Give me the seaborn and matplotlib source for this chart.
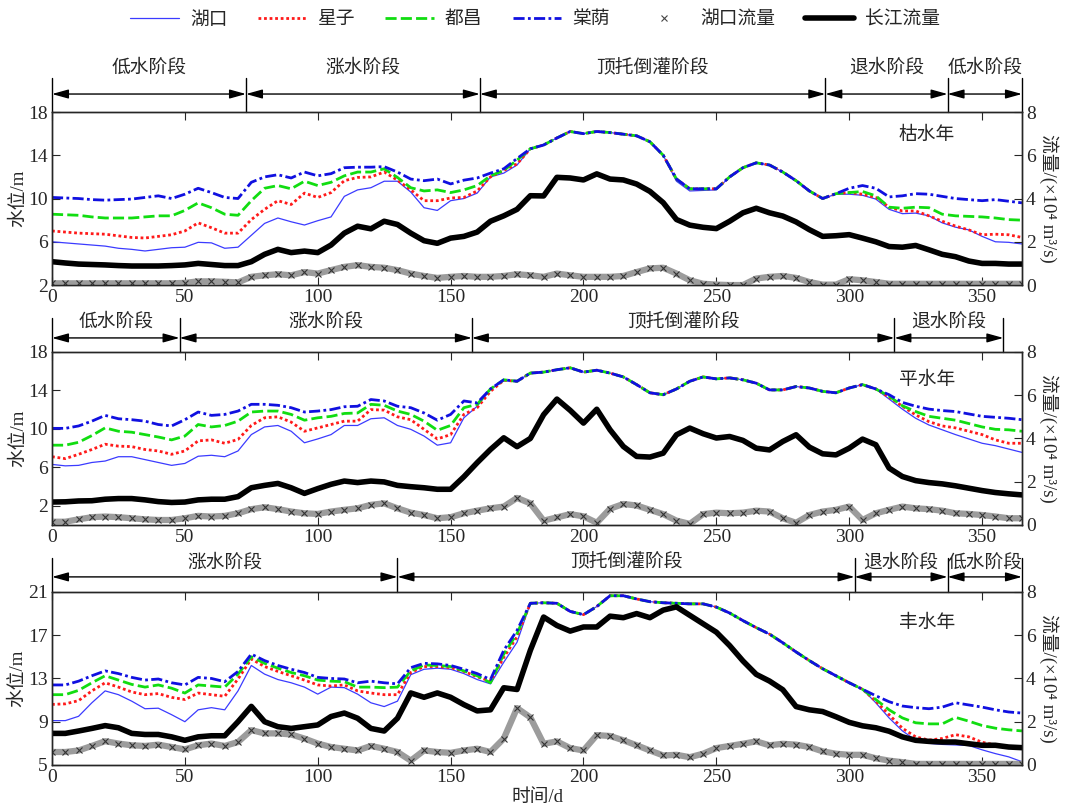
import numpy as np
import matplotlib
matplotlib.use("Agg")
import matplotlib.pyplot as plt
from matplotlib.lines import Line2D
import matplotlib.transforms as mtransforms
import seaborn as sns

# Days sampled every 5 days
days = np.arange(0, 366, 5)

# ---------------- Dry year (枯水年) ----------------
dry_common = [14.6, 14.95, 15.6, 16.2, 16.0, 16.2, 16.1, 15.95, 15.8, 15.25, 14.0, 11.8,
              10.9, 10.9, 10.9, 12.0, 12.85, 13.3, 13.1, 12.45, 11.65, 10.7, 10.0, 10.45]
dry_hukou = [6.0, 5.9, 5.8, 5.7, 5.6, 5.4, 5.3, 5.15, 5.3, 5.45, 5.5, 5.95, 5.9, 5.4, 5.5, 6.6,
             7.7, 8.2, 7.85, 7.55, 7.95, 8.3, 10.2, 10.8, 11.0, 11.6, 11.6, 10.6, 9.15, 8.9, 9.8,
             10.0, 10.5, 12.0, 12.35, 13.1] + \
            [14.6, 14.95, 15.6, 16.2, 16.0, 16.2, 16.1, 15.95, 15.8, 15.25, 14.0, 11.6,
             10.7, 10.75, 10.8, 12.0, 12.85, 13.3, 13.1, 12.45, 11.65, 10.7, 10.0, 10.4] + \
            [10.4, 10.3, 9.95, 9.0, 8.6, 8.65, 8.4, 7.75, 7.35, 7.1, 6.5, 6.0, 5.95, 5.8]
dry_xingzi = [7.0, 6.9, 6.8, 6.75, 6.7, 6.55, 6.4, 6.35, 6.5, 6.65, 7.0, 7.75, 7.3, 6.8, 6.8,
              8.05, 9.0, 9.8, 9.45, 10.5, 10.1, 10.55, 11.65, 11.95, 12.0, 12.45, 11.7, 10.8,
              9.8, 9.8, 10.05, 10.1, 10.7, 12.0, 12.6, 13.2] + dry_common + \
             [10.55, 10.4, 10.1, 9.2, 8.85, 8.85, 8.4, 7.9, 7.45, 7.1, 6.65, 6.7, 6.65, 6.4]
dry_duchang = [8.55, 8.5, 8.45, 8.3, 8.2, 8.2, 8.2, 8.3, 8.4, 8.4, 8.9, 9.6, 9.15, 8.55, 8.45,
               9.8, 10.95, 11.2, 10.9, 11.6, 11.2, 11.5, 12.1, 12.45, 12.45, 12.75, 11.95, 11.0,
               10.7, 10.8, 10.55, 10.8, 11.2, 12.1, 12.6, 13.55] + dry_common + \
              [10.55, 10.65, 10.25, 9.2, 9.1, 9.2, 9.15, 8.55, 8.4, 8.35, 8.3, 8.2, 8.05, 8.0]
dry_tangyin = [10.1, 10.05, 10.0, 9.9, 9.85, 9.9, 9.95, 10.1, 10.25, 10.0, 10.4, 10.95, 10.55,
               10.1, 10.0, 11.5, 12.0, 12.2, 11.9, 12.45, 12.1, 12.3, 12.85, 12.9, 12.9, 12.95,
               12.45, 11.8, 11.65, 11.8, 11.35, 11.7, 11.9, 12.35, 12.75, 13.7] + dry_common + \
              [10.95, 11.2, 10.95, 10.15, 10.25, 10.45, 10.4, 10.2, 10.0, 9.9, 9.8, 9.9, 9.75, 9.6]
dry_cj_flow = [1.08, 1.02, 0.97, 0.95, 0.93, 0.9, 0.88, 0.88, 0.88, 0.9, 0.93, 1.0, 0.95, 0.9,
               0.9, 1.08, 1.42, 1.65, 1.5, 1.57, 1.5, 1.85, 2.4, 2.72, 2.6, 2.95, 2.8, 2.4, 2.05,
               1.93, 2.17, 2.25, 2.45, 2.95, 3.2, 3.5, 4.13, 4.12, 4.98, 4.95, 4.86, 5.14, 4.9,
               4.86, 4.67, 4.33, 3.81, 3.03, 2.77, 2.67, 2.61, 2.95, 3.34, 3.55, 3.34, 3.19, 2.92,
               2.56, 2.25, 2.28, 2.33, 2.17, 2.0, 1.78, 1.75, 1.83, 1.63, 1.42, 1.31, 1.11, 1.0,
               1.0, 0.97, 0.97]
dry_hk_flow = [0.08, 0.08, 0.08, 0.08, 0.08, 0.08, 0.08, 0.08, 0.08, 0.08, 0.1, 0.17, 0.17,
               0.15, 0.12, 0.38, 0.45, 0.5, 0.45, 0.6, 0.53, 0.69, 0.84, 0.92, 0.84, 0.8, 0.69,
               0.53, 0.42, 0.33, 0.38, 0.42, 0.38, 0.38, 0.42, 0.5, 0.45, 0.38, 0.53, 0.45, 0.38,
               0.38, 0.38, 0.42, 0.6, 0.77, 0.8, 0.53, 0.22, 0.06, 0.02, 0.0, 0.0, 0.3, 0.38,
               0.42, 0.33, 0.14, 0.02, 0.02, 0.27, 0.22, 0.14, 0.06, 0.06, 0.06, 0.06, 0.06,
               0.06, 0.06, 0.06, 0.06, 0.06, 0.06]

# ---------------- Normal year (平水年) ----------------
nor_common = [15.8, 15.9, 16.15, 16.35, 15.9, 16.1, 15.8, 15.4, 14.6, 13.75, 13.55, 14.15,
              14.95, 15.4, 15.2, 15.3, 15.1, 14.75, 14.05, 14.05, 14.4, 14.25, 13.9, 13.75,
              14.25, 14.6, 14.15]
nor_hukou = [6.3, 6.15, 6.2, 6.5, 6.65, 7.1, 7.1, 6.8, 6.5, 6.2, 6.4, 7.15, 7.25, 7.1, 7.7,
             9.4, 10.2, 10.35, 9.75, 8.55, 8.95, 9.4, 10.35, 10.35, 11.05, 11.15, 10.35, 9.95,
             9.25, 8.3, 8.55, 11.15, 12.35, 14.1, 15.05, 14.95] + nor_common + \
            [13.1, 12.05, 11.1, 10.4, 9.9, 9.4, 8.95, 8.5, 8.25, 7.9, 7.55]
nor_xingzi = [7.1, 6.9, 7.35, 7.85, 8.4, 8.2, 8.15, 7.85, 7.7, 7.35, 7.7, 8.75, 8.85, 8.5, 8.9,
              10.35, 11.15, 11.25, 10.7, 9.75, 10.1, 10.45, 10.8, 10.8, 12.0, 11.95, 11.25,
              10.95, 9.95, 8.95, 9.4, 11.5, 12.2, 13.9, 15.05, 14.95] + nor_common + \
             [13.3, 12.35, 11.45, 10.75, 10.3, 10.1, 9.75, 9.4, 8.85, 8.5, 8.5]
nor_duchang = [8.3, 8.3, 8.6, 9.3, 10.1, 9.75, 9.65, 9.4, 9.15, 8.85, 9.25, 10.45, 10.2, 10.35,
               10.8, 11.75, 11.85, 11.85, 11.5, 10.9, 11.15, 11.3, 11.6, 11.65, 12.55, 12.45,
               11.85, 11.5, 10.8, 9.85, 10.35, 12.2, 12.55, 14.15, 15.1, 14.95] + nor_common + \
              [13.4, 12.4, 11.8, 11.3, 11.1, 10.9, 10.55, 10.2, 9.95, 9.9, 9.75]
nor_tangyin = [10.05, 10.05, 10.3, 10.8, 11.4, 11.05, 10.95, 10.8, 10.45, 10.3, 10.95, 11.75,
               11.4, 11.5, 11.85, 12.55, 12.55, 12.45, 12.2, 11.75, 11.85, 12.0, 12.3, 12.35,
               13.05, 12.9, 12.35, 12.2, 11.65, 10.9, 11.5, 12.9, 12.7, 14.15, 15.1, 14.95] + \
              nor_common + [13.55, 12.75, 12.35, 12.05, 11.9, 11.8, 11.55, 11.3, 11.2, 11.1, 10.95]
nor_cj_flow = [1.06, 1.07, 1.11, 1.12, 1.19, 1.22, 1.22, 1.16, 1.08, 1.04, 1.06, 1.16, 1.19,
               1.19, 1.31, 1.72, 1.83, 1.92, 1.72, 1.46, 1.68, 1.88, 2.03, 1.96, 2.03, 1.99,
               1.83, 1.77, 1.72, 1.65, 1.65, 2.23, 2.88, 3.49, 4.03, 3.62, 4.0, 5.1, 5.82, 5.3,
               4.71, 5.35, 4.4, 3.63, 3.17, 3.14, 3.32, 4.17, 4.48, 4.22, 4.02, 4.09, 3.91,
               3.55, 3.47, 3.86, 4.17, 3.6, 3.29, 3.24, 3.55, 3.97, 3.71, 2.63, 2.24, 2.05,
               1.96, 1.9, 1.81, 1.7, 1.59, 1.5, 1.44, 1.39]
nor_hk_flow = [0.15, 0.15, 0.26, 0.36, 0.39, 0.36, 0.31, 0.26, 0.23, 0.23, 0.31, 0.42, 0.39,
               0.42, 0.54, 0.73, 0.82, 0.73, 0.62, 0.54, 0.51, 0.62, 0.7, 0.77, 0.93, 1.0,
               0.77, 0.57, 0.46, 0.31, 0.36, 0.54, 0.66, 0.77, 0.85, 1.25, 1.0, 0.2, 0.35, 0.5,
               0.4, 0.1, 0.75, 0.97, 0.9, 0.7, 0.5, 0.2, 0.05, 0.5, 0.57, 0.54, 0.57, 0.66,
               0.62, 0.31, 0.1, 0.46, 0.62, 0.7, 0.85, 0.23, 0.54, 0.7, 0.85, 0.77, 0.73, 0.66,
               0.54, 0.51, 0.46, 0.39, 0.31, 0.31]

# ---------------- Wet year (丰水年) ----------------
wet_common = [19.95, 20.0, 19.95, 19.2, 18.9, 19.65, 20.65, 20.65, 20.35, 20.1, 20.0, 19.95,
              19.9, 19.9, 19.6, 19.05, 18.35, 17.7, 17.1, 16.3, 15.45, 14.65, 13.9, 13.25,
              12.6, 12.0]
wet_hukou = [9.1, 9.1, 9.5, 10.75, 11.85, 11.5, 10.9, 10.2, 10.25, 9.65, 9.0, 10.1, 10.3, 10.1,
             11.85, 14.2, 13.4, 12.9, 12.6, 12.2, 11.55, 12.2, 12.15, 11.55, 10.75, 10.4, 10.9,
             13.35, 13.85, 13.95, 13.85, 13.45, 12.9, 12.5, 14.5, 16.35] + wet_common + \
            [10.75, 9.35, 8.15, 7.3, 7.0, 6.9, 6.85, 6.8, 6.4, 6.05, 5.75, 5.3]
wet_xingzi = [10.6, 10.65, 10.95, 11.85, 12.6, 12.2, 11.75, 11.5, 11.6, 11.25, 11.05, 11.65,
              11.5, 11.35, 12.95, 14.8, 14.1, 13.65, 13.25, 12.85, 12.4, 12.3, 12.4, 11.85,
              11.65, 11.5, 11.5, 13.55, 14.1, 14.1, 14.0, 13.65, 13.15, 12.75, 14.95, 16.85] + \
             wet_common + [10.9, 9.65, 8.4, 7.6, 7.3, 7.45, 7.8, 7.6, 7.1, 6.85, 6.7, 6.55]
wet_duchang = [11.5, 11.5, 11.9, 12.6, 13.25, 12.85, 12.45, 12.2, 12.4, 12.1, 11.65, 12.4,
               12.3, 12.2, 13.4, 15.0, 14.4, 13.95, 13.55, 13.25, 12.85, 12.75, 12.7, 12.2,
               12.2, 12.15, 12.2, 13.7, 14.25, 14.2, 14.1, 13.7, 13.25, 12.6, 15.25, 17.15] + \
              wet_common + [11.05, 10.1, 9.35, 8.9, 8.8, 8.8, 9.4, 9.05, 8.65, 8.4, 8.25, 8.15]
wet_tangyin = [12.4, 12.4, 12.75, 13.25, 13.7, 13.45, 13.1, 12.85, 12.95, 12.6, 12.4, 13.1,
               13.0, 12.7, 13.65, 15.25, 14.65, 14.2, 13.85, 13.55, 13.1, 13.0, 12.95, 12.6,
               12.75, 12.6, 12.5, 14.0, 14.4, 14.35, 14.2, 13.85, 13.45, 12.9, 15.6, 17.45] + \
              wet_common + [11.4, 10.85, 10.45, 10.3, 10.2, 10.35, 10.75, 10.55, 10.35, 10.1,
                            9.9, 9.8]
wet_cj_flow = [1.46, 1.46, 1.57, 1.69, 1.82, 1.72, 1.46, 1.41, 1.41, 1.3, 1.14, 1.3, 1.35,
               1.35, 2.0, 2.71, 2.0, 1.77, 1.69, 1.77, 1.85, 2.24, 2.4, 2.16, 1.69, 1.57, 2.16,
               3.33, 3.13, 3.33, 3.13, 2.79, 2.5, 2.55, 3.57, 3.49, 5.3, 6.84, 6.45, 6.19,
               6.38, 6.38, 6.88, 6.81, 7.0, 6.81, 7.16, 7.31, 6.92, 6.53, 6.14, 5.52, 4.81,
               4.19, 3.88, 3.48, 2.7, 2.55, 2.47, 2.23, 1.97, 1.81, 1.72, 1.56, 1.3, 1.14, 1.09,
               1.06, 1.06, 0.98, 0.91, 0.91, 0.83, 0.8]
wet_hk_flow = [0.6, 0.6, 0.67, 0.88, 1.1, 0.99, 0.91, 0.88, 0.94, 0.83, 0.72, 0.91, 0.99,
               0.88, 1.06, 1.61, 1.46, 1.46, 1.41, 1.22, 0.99, 0.83, 0.75, 0.67, 0.88, 0.75,
               0.6, 0.2, 0.67, 0.6, 0.56, 0.67, 0.75, 0.6, 1.22, 2.63, 2.2, 0.98, 1.09, 0.78,
               0.67, 1.38, 1.34, 1.14, 0.91, 0.67, 0.44, 0.47, 0.36, 0.52, 0.78, 0.88, 0.98,
               1.09, 0.91, 0.98, 0.94, 0.83, 0.63, 0.52, 0.47, 0.47, 0.31, 0.2, 0.13, 0.05,
               0.05, 0.05, 0.05, 0.05, 0.05, 0.05, 0.05, 0.05]

# Phase boundaries (days) and labels
dry_bounds = [0, 73, 161, 291, 337, 365]
dry_phases = ["低水阶段", "涨水阶段", "顶托倒灌阶段", "退水阶段", "低水阶段"]
nor_bounds = [0, 48, 158, 317, 358]
nor_phases = ["低水阶段", "涨水阶段", "顶托倒灌阶段", "退水阶段"]
wet_bounds = [0, 130, 302, 337, 365]
wet_phases = ["涨水阶段", "顶托倒灌阶段", "退水阶段", "低水阶段"]

year_names = ["枯水年", "平水年", "丰水年"]
xticks = [0, 50, 100, 150, 200, 250, 300, 350]

sns.set_style("ticks")
plt.rcParams["font.family"] = ["Liberation Serif", "Noto Sans CJK SC", "DejaVu Sans"]
plt.rcParams["axes.unicode_minus"] = False

FS = 13.5
fig = plt.figure(figsize=(10.7, 8.1), dpi=100)

panels = [
    dict(pos=[0.0486, 0.6481, 0.9065, 0.2136], ylim=(2, 18), yticks=[2, 6, 10, 14, 18],
         st=[dry_hukou, dry_xingzi, dry_duchang, dry_tangyin], cj=dry_cj_flow, hk=dry_hk_flow,
         bounds=dry_bounds, phases=dry_phases, arrow_y=1.104, text_y=1.254, name_y=0.867),
    dict(pos=[0.0486, 0.3519, 0.9065, 0.2136], ylim=(0, 18), yticks=[2, 6, 10, 14, 18],
         st=[nor_hukou, nor_xingzi, nor_duchang, nor_tangyin], cj=nor_cj_flow, hk=nor_hk_flow,
         bounds=nor_bounds, phases=nor_phases, arrow_y=1.081, text_y=1.173, name_y=0.838),
    dict(pos=[0.0486, 0.0556, 0.9065, 0.2136], ylim=(5, 21), yticks=[5, 9, 13, 17, 21],
         st=[wet_hukou, wet_xingzi, wet_duchang, wet_tangyin], cj=wet_cj_flow, hk=wet_hk_flow,
         bounds=wet_bounds, phases=wet_phases, arrow_y=1.087, text_y=1.168, name_y=0.82),
]

styles = [dict(color="#3b3bff", linestyle="-", lw=0.9),
          dict(color="#ff1a1a", linestyle=(0, (1, 1)), lw=2.0),
          dict(color="#11dd11", linestyle=(0, (4, 1.5)), lw=2.0),
          dict(color="#1010e0", linestyle=(0, (4, 1.2, 1, 1.2)), lw=2.0)]

for i, p in enumerate(panels):
    ax = fig.add_axes(p["pos"])
    ax2 = ax.twinx()
    for vals, stl in zip(p["st"], styles):
        sns.lineplot(x=days, y=vals, ax=ax, **stl)
    sns.lineplot(x=days, y=p["hk"], ax=ax2, color="#9c9c9c", lw=4.5, marker="x",
                 markersize=5, markeredgecolor="#333333", markeredgewidth=0.8)
    sns.lineplot(x=days, y=p["cj"], ax=ax2, color="black", lw=4)

    ax.set_xlim(0, 365)
    ax.set_ylim(*p["ylim"])
    ax.set_yticks(p["yticks"])
    ax.set_xticks(xticks)
    ax2.set_ylim(0, 8)
    ax2.set_yticks([0, 2, 4, 6, 8])
    ax.tick_params(direction="in", top=True, length=6, labelsize=14, pad=3)
    ax2.tick_params(direction="in", length=6, labelsize=14, pad=3)
    for a in (ax, ax2):
        for s in a.spines.values():
            s.set_linewidth(1.0)
    ax.set_ylabel("水位/m", fontsize=FS, labelpad=1)
    ax2.set_ylabel("流量/(×10⁴ m³/s)", fontsize=FS, rotation=270, labelpad=16)
    ax.set_xlabel("时间/d" if i == 2 else "", fontsize=FS, labelpad=2)
    ax.text(0.902, p["name_y"], year_names[i], transform=ax.transAxes, ha="center",
            va="center", fontsize=FS)

    # phase arrows above each panel
    trans = mtransforms.blended_transform_factory(ax.transData, ax.transAxes)
    b = p["bounds"]
    for x0 in b:
        ax.plot([x0, x0], [1.0, 1.197], transform=trans, color="black", lw=1,
                clip_on=False)
    for (s, e), lab in zip(zip(b[:-1], b[1:]), p["phases"]):
        ax.annotate("", xy=(e, p["arrow_y"]), xytext=(s, p["arrow_y"]),
                    xycoords=trans, textcoords=trans,
                    arrowprops=dict(arrowstyle="<|-|>,head_length=0.9,head_width=0.25",
                                    color="black", lw=1, mutation_scale=11,
                                    shrinkA=0, shrinkB=0))
        ax.text((s + e) / 2, p["text_y"], lab, transform=trans, ha="center",
                va="center", fontsize=FS)

handles = [Line2D([], [], **styles[0]), Line2D([], [], **styles[1]),
           Line2D([], [], **styles[2]), Line2D([], [], **styles[3]),
           Line2D([], [], linestyle="none", marker="x", markersize=4, color="#444444",
                  markeredgewidth=0.8),
           Line2D([], [], color="black", lw=4)]
labels = ["湖口", "星子", "都昌", "棠荫", "湖口流量", "长江流量"]
fig.legend(handles, labels, loc="upper center", bbox_to_anchor=(0.5, 1.0), ncol=6,
           frameon=False, fontsize=FS, handlelength=2.6, columnspacing=1.6,
           handletextpad=0.6, borderaxespad=0.2)

fig.savefig("out.png", dpi=100)
